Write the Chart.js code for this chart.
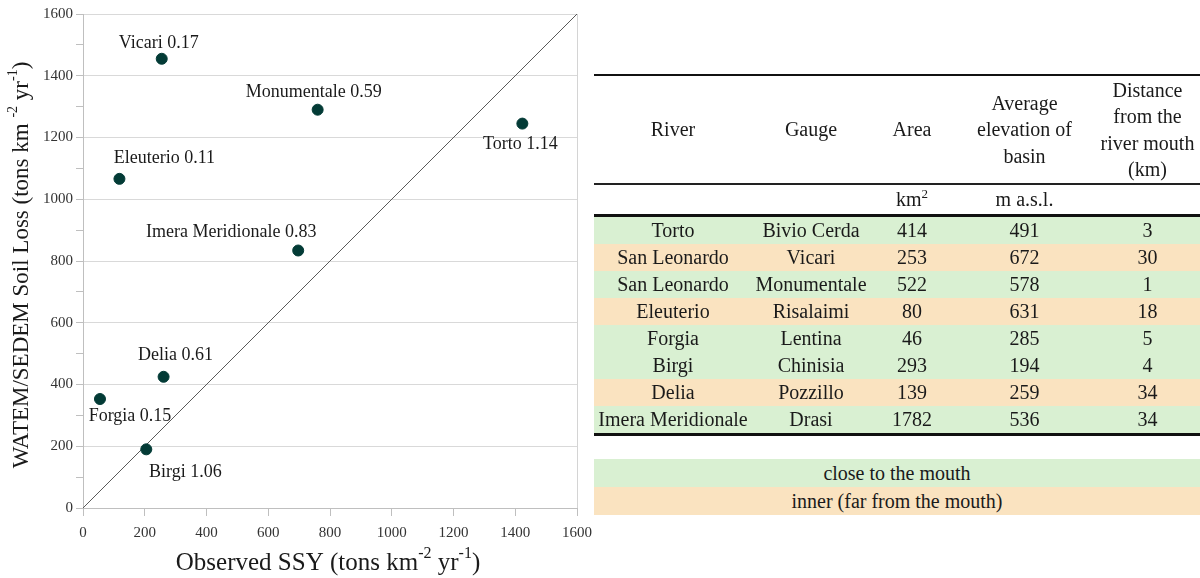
<!DOCTYPE html>
<html>
<head>
<meta charset="utf-8">
<script src="https://cdn.jsdelivr.net/npm/chart.js@4.4.1/dist/chart.umd.min.js"></script>
<style>
  body { margin: 0; background: #fff; font-family: "Liberation Serif", "Times New Roman", serif; color: #1a1a1a; }
  #chartBox { position: absolute; left: 0; top: 0; width: 600px; height: 578px; }
  table { border-collapse: collapse; position: absolute; left: 594px; width: 606px; font-family: "Liberation Serif", "Times New Roman", serif; font-size: 20px; color: #1a1a1a; }
  td { padding: 0; text-align: center; vertical-align: middle; white-space: nowrap; }
  #basinTable { top: 74px; }
  #basinTable tr.head td { height: 107px; line-height: 26.5px; border-top: 2px solid #111; border-bottom: 2px solid #222; }
  #basinTable tr.units td { height: 29px; border-bottom: 3px solid #111; }
  #basinTable tr.row td { height: 27px; line-height: 27px; }
  #basinTable tr.row:last-child td { border-bottom: 3px solid #111; }
  #legendTable { top: 459px; }
  #legendTable td { height: 28px; line-height: 28px; }
  .close { background: #d9f0d2; }
  .inner { background: #fae3c0; }
  sup { font-size: 13px; vertical-align: 8px; line-height: 0; }
</style>
</head>
<body>
<div id="chartBox"><canvas id="ssyChart" width="600" height="578"></canvas></div>

<table id="basinTable">
  <colgroup>
    <col style="width:158px"><col style="width:118px"><col style="width:84px"><col style="width:141px"><col style="width:105px">
  </colgroup>
  <tbody id="basinRows">
    <tr class="head">
      <td>River</td><td>Gauge</td><td>Area</td><td>Average<br>elevation of<br>basin</td><td>Distance<br>from the<br>river mouth<br>(km)</td>
    </tr>
    <tr class="units">
      <td></td><td></td><td>km<sup>2</sup></td><td>m a.s.l.</td><td></td>
    </tr>
  </tbody>
</table>

<table id="legendTable">
  <tr class="close"><td>close to the mouth</td></tr>
  <tr class="inner"><td>inner (far from the mouth)</td></tr>
</table>

<script>
// scatter: observed SSY vs WATEM/SEDEM soil loss, labelled by gauge and ratio
var gauges = ['Torto', 'Vicari', 'Monumentale', 'Eleuterio', 'Forgia', 'Birgi', 'Delia', 'Imera Meridionale'];
var observedSSY = [1423, 255, 760, 118, 55, 205, 261, 697];
var soilLoss = [1245, 1455, 1290, 1066, 353, 190, 425, 834];
var ratios = ['1.14', '0.17', '0.59', '0.11', '0.15', '1.06', '0.61', '0.83'];
var oneToOne = [0, 1600];

// basin table
var rivers = ['Torto', 'San Leonardo', 'San Leonardo', 'Eleuterio', 'Forgia', 'Birgi', 'Delia', 'Imera Meridionale'];
var gaugeNames = ['Bivio Cerda', 'Vicari', 'Monumentale', 'Risalaimi', 'Lentina', 'Chinisia', 'Pozzillo', 'Drasi'];
var areas = [414, 253, 522, 80, 46, 293, 139, 1782];
var elevations = [491, 672, 578, 631, 285, 194, 259, 536];
var distances = [3, 30, 1, 18, 5, 4, 34, 34];
var position = ['close', 'inner', 'close', 'inner', 'close', 'close', 'inner', 'close'];

var rowsBody = document.getElementById('basinRows');
for (var i = 0; i < rivers.length; i++) {
  var tr = document.createElement('tr');
  tr.className = 'row ' + position[i];
  [rivers[i], gaugeNames[i], areas[i], elevations[i], distances[i]].forEach(function (v) {
    var td = document.createElement('td');
    td.textContent = v;
    tr.appendChild(td);
  });
  rowsBody.appendChild(tr);
}

var SERIF = '"Liberation Serif", "Times New Roman", serif';

// label placement around each marker (dx, dy from point centre, px)
var labelOffsets = [[-2, 21], [-3, -16], [-4, -17], [45, -21], [30, 17], [39, 23], [12, -22], [-67, -18]];

var pointLabels = {
  id: 'pointLabels',
  afterDatasetsDraw: function (chart) {
    var ctx = chart.ctx;
    var meta = chart.getDatasetMeta(1);
    ctx.save();
    ctx.font = '18px ' + SERIF;
    ctx.fillStyle = '#1a1a1a';
    ctx.textAlign = 'center';
    ctx.textBaseline = 'middle';
    meta.data.forEach(function (pt, i) {
      ctx.fillText(gauges[i] + ' ' + ratios[i], pt.x + labelOffsets[i][0], pt.y + labelOffsets[i][1]);
    });
    ctx.restore();
  }
};

// draws text runs with superscripts, centred on (0,0) of the current transform
function drawRich(ctx, parts, size) {
  var supSize = Math.round(size * 0.62);
  var total = 0;
  parts.forEach(function (p) {
    ctx.font = (p.sup ? supSize : size) + 'px ' + SERIF;
    p.w = ctx.measureText(p.t).width;
    total += p.w;
  });
  var x = -total / 2;
  parts.forEach(function (p) {
    ctx.font = (p.sup ? supSize : size) + 'px ' + SERIF;
    ctx.fillText(p.t, x, p.sup ? -size * 0.36 : 0);
    x += p.w;
  });
}

var axisTitles = {
  id: 'axisTitles',
  afterDraw: function (chart) {
    var ctx = chart.ctx;
    var area = chart.chartArea;
    ctx.save();
    ctx.fillStyle = '#1a1a1a';
    ctx.textAlign = 'left';
    ctx.textBaseline = 'middle';
    ctx.translate((area.left + area.right) / 2 - 2, 563);
    drawRich(ctx, [
      { t: 'Observed SSY (tons km' }, { t: '-2', sup: true }, { t: ' yr' }, { t: '-1', sup: true }, { t: ')' }
    ], 25);
    ctx.restore();

    ctx.save();
    ctx.fillStyle = '#1a1a1a';
    ctx.textAlign = 'left';
    ctx.textBaseline = 'middle';
    ctx.translate(22, (area.top + area.bottom) / 2 + 4);
    ctx.rotate(-Math.PI / 2);
    drawRich(ctx, [
      { t: 'WATEM/SEDEM Soil Loss (tons km ' }, { t: '-2', sup: true }, { t: ' yr' }, { t: '-1', sup: true }, { t: ')' }
    ], 23);
    ctx.restore();
  }
};

var points = observedSSY.map(function (x, i) { return { x: x, y: soilLoss[i] }; });

new Chart(document.getElementById('ssyChart'), {
  type: 'scatter',
  data: {
    datasets: [
      {
        label: '1:1',
        data: oneToOne.map(function (v) { return { x: v, y: v }; }),
        showLine: true,
        borderColor: '#5a5a5a',
        borderWidth: 1,
        pointRadius: 0,
        order: 2
      },
      {
        label: 'basins',
        data: points,
        backgroundColor: '#033b36',
        borderColor: '#033b36',
        pointRadius: 5.5,
        order: 1
      }
    ]
  },
  options: {
    responsive: false,
    animation: false,
    devicePixelRatio: 1,
    layout: { padding: { left: 0, top: 14, right: 23, bottom: 0 } },
    plugins: { legend: { display: false }, tooltip: { enabled: false } },
    scales: {
      x: {
        type: 'linear',
        min: 0,
        max: 1600,
        ticks: {
          stepSize: 200,
          color: '#333',
          font: { family: SERIF, size: 15 },
          padding: 8,
          maxRotation: 0,
          callback: function (v) { return String(v); }
        },
        grid: {
          color: function (c) { return c.tick && c.tick.value === 1600 ? '#d4d4d4' : 'rgba(0,0,0,0)'; },
          tickColor: '#bfbfbf',
          tickLength: 8
        },
        border: { color: '#bfbfbf' },
        afterFit: function (scale) {
          scale.height = 70;
          // let the end labels hang over the edges instead of shrinking the plot
          scale.paddingLeft = 0;
          scale.paddingRight = 0;
        }
      },
      y: {
        type: 'linear',
        min: 0,
        max: 1600,
        ticks: {
          stepSize: 100,
          autoSkip: false,
          color: '#333',
          font: { family: SERIF, size: 15 },
          padding: 3,
          callback: function (v) { return v % 200 === 0 ? String(v) : ''; }
        },
        grid: {
          color: function (c) { return c.tick && c.tick.value % 200 === 0 ? '#d9d9d9' : 'rgba(0,0,0,0)'; },
          tickColor: '#bfbfbf',
          tickLength: 7
        },
        border: { color: '#bfbfbf' },
        afterFit: function (scale) {
          scale.width = 83;
          scale.paddingTop = 0;
          scale.paddingBottom = 0;
        }
      }
    }
  },
  plugins: [pointLabels, axisTitles]
});
</script>
</body>
</html>
